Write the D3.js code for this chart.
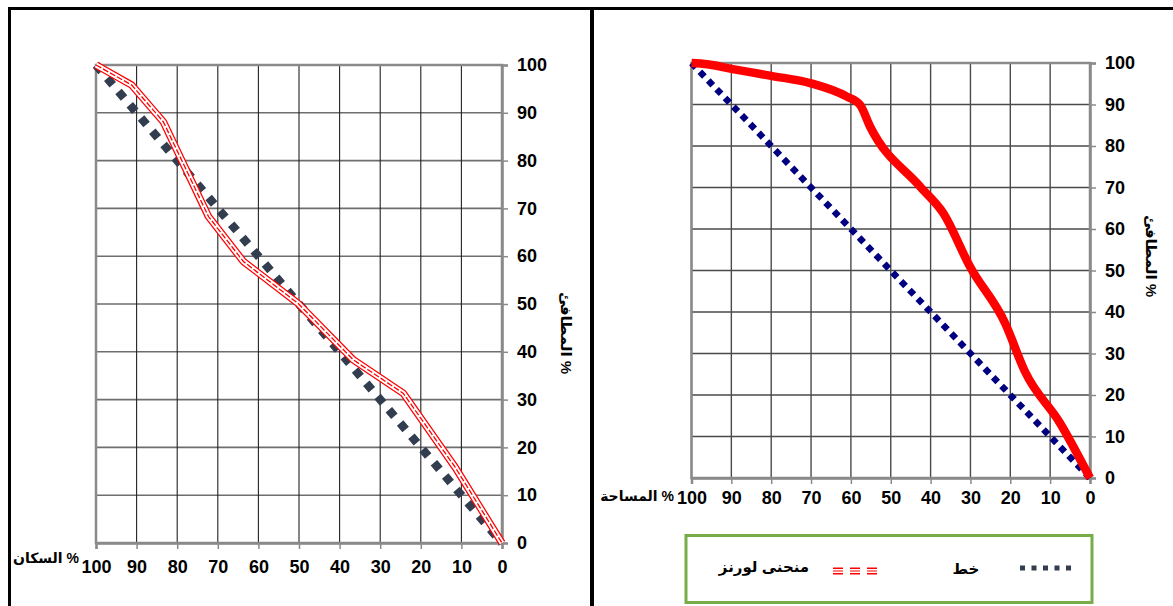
<!DOCTYPE html>
<html>
<head>
<meta charset="utf-8">
<script src="https://cdn.jsdelivr.net/npm/d3@7"></script>
<style>
  body { margin: 0; background: #fff; }
  svg { display: block; font-family: "Liberation Sans", Arial, "DejaVu Sans", sans-serif; }
</style>
</head>
<body>
<div id="chart"></div>
<script>
// tick values shared by both charts
const xTicks = [100, 90, 80, 70, 60, 50, 40, 30, 20, 10, 0];
const yTicks = [0, 10, 20, 30, 40, 50, 60, 70, 80, 90, 100];

// left chart: % population vs % fire stations
const popX = [100, 91.2, 83.4, 72.3, 63.7, 50.2, 36.6, 24.3, 11.5, 0];
const popY = [100, 95.8, 88.1, 68.3, 58.9, 50.1, 38.3, 31.3, 15.8, 0];

// right chart: % area vs % fire stations
const areaX = [100, 96, 90, 80, 70, 61, 57.7, 55.2, 42.6, 36.8, 30.1, 21.3, 16.3, 7.5, 0];
const areaY = [100, 99.7, 98.6, 96.9, 95.1, 91.9, 89.9, 84.7, 70.2, 63.8, 50.9, 37.3, 25.6, 13.2, 0];

// equality line
const eqX = [100, 0];
const eqY = [100, 0];

// strings written in visual order (percent sign on the right)
const labels = {
  yTitle: "المطافئ %",
  popTitle: "السكان %",
  areaTitle: "المساحة %",
  lorenz: "منحنى لورنز",
  line: "خط"
};

const W = 1173, H = 606;
const svg = d3.select("#chart").append("svg")
  .attr("width", W).attr("height", H);

// panel frames
svg.append("line").attr("x1", 8).attr("x2", W).attr("y1", 8.5).attr("y2", 8.5)
  .attr("stroke", "#000").attr("stroke-width", 3);
svg.append("line").attr("x1", 9.5).attr("x2", 9.5).attr("y1", 7).attr("y2", H)
  .attr("stroke", "#000").attr("stroke-width", 3);
svg.append("line").attr("x1", 592).attr("x2", 592).attr("y1", 7).attr("y2", H)
  .attr("stroke", "#000").attr("stroke-width", 4);

function drawChart(opt) {
  const x = d3.scaleLinear().domain([100, 0]).range(opt.xr);
  const y = d3.scaleLinear().domain([0, 100]).range(opt.yr);
  const g = svg.append("g");

  // grid
  g.selectAll(".hg").data(yTicks).enter().append("line")
    .attr("x1", x(100)).attr("x2", x(0))
    .attr("y1", d => y(d)).attr("y2", d => y(d))
    .attr("stroke", opt.hColor).attr("stroke-width", opt.hWidth);
  g.selectAll(".vg").data(xTicks).enter().append("line")
    .attr("x1", d => x(d)).attr("x2", d => x(d))
    .attr("y1", y(0)).attr("y2", y(100))
    .attr("stroke", opt.vColor).attr("stroke-width", opt.vWidth);

  g.append("rect")
    .attr("x", x(100)).attr("y", y(100))
    .attr("width", x(0) - x(100)).attr("height", y(0) - y(100))
    .attr("fill", "none").attr("stroke", "#8a8a8a").attr("stroke-width", 2.5);

  // axes
  const xa = g.append("g")
    .attr("transform", `translate(0,${y(0)})`)
    .call(d3.axisBottom(x).tickValues(xTicks).tickSize(6).tickPadding(opt.xPad));
  const ya = g.append("g")
    .attr("transform", `translate(${x(0)},0)`)
    .call(d3.axisRight(y).tickValues(yTicks).tickSize(6).tickPadding(9));
  [xa, ya].forEach(a => {
    a.select(".domain").attr("stroke", "#8a8a8a").attr("stroke-width", 2.5);
    a.selectAll(".tick line").attr("stroke", "#8a8a8a").attr("stroke-width", 1.5);
    a.selectAll("text").attr("font-size", 18).attr("font-weight", "bold")
      .attr("font-family", "'Liberation Sans', Arial, sans-serif").attr("fill", "#000");
  });

  // titles
  g.append("text")
    .attr("x", opt.xTitle[0]).attr("y", opt.xTitle[1])
    .attr("text-anchor", "end").attr("font-size", 14).attr("font-weight", "bold")
    .text(opt.xTitleText);
  g.append("text")
    .attr("transform", `translate(${opt.yTitle[0]},${opt.yTitle[1]}) rotate(90)`)
    .attr("text-anchor", "middle").attr("dy", "0.35em")
    .attr("font-size", 15).attr("font-weight", "bold")
    .text(labels.yTitle);

  return { g, x, y };
}

// ---------- left chart ----------
const L = drawChart({
  xr: [96, 502], yr: [543, 65], xPad: 11,
  hColor: "#6e6e6e", hWidth: 1.6, vColor: "#222", vWidth: 1.1,
  xTitle: [79, 563], xTitleText: labels.popTitle, yTitle: [566, 333]
});

const eqLine = d3.line();
L.g.append("path")
  .attr("d", eqLine(eqX.map((v, i) => [L.x(v), L.y(eqY[i])])))
  .attr("fill", "none").attr("stroke", "#323e4f")
  .attr("stroke-width", 8.5).attr("stroke-dasharray", "8.5 8.9");

const popPts = popX.map((v, i) => [L.x(v), L.y(popY[i])]);
const popLine = d3.line()(popPts);
L.g.append("path").attr("d", popLine).attr("fill", "none")
  .attr("stroke", "#ff0000").attr("stroke-width", 7.5).attr("stroke-linejoin", "round");
L.g.append("path").attr("d", popLine).attr("fill", "none")
  .attr("stroke", "#fff").attr("stroke-width", 5).attr("stroke-linejoin", "round");
L.g.append("path").attr("d", popLine).attr("fill", "none")
  .attr("stroke", "#ff0000").attr("stroke-width", 1.3).attr("stroke-dasharray", "6 2");

// ---------- right chart ----------
const R = drawChart({
  xr: [691.5, 1090], yr: [478, 63], xPad: 7,
  hColor: "#4a4a4a", hWidth: 1.4, vColor: "#4a4a4a", vWidth: 1.4,
  xTitle: [674, 501], xTitleText: labels.areaTitle, yTitle: [1151, 256]
});

R.g.append("path")
  .attr("d", eqLine(eqX.map((v, i) => [R.x(v), R.y(eqY[i])])))
  .attr("fill", "none").attr("stroke", "#000080")
  .attr("stroke-width", 6.5).attr("stroke-dasharray", "6.5 5.6");

const areaPts = areaX.map((v, i) => ({ x: v, y: areaY[i] }))
  .sort((a, b) => a.x - b.x);
R.g.append("path")
  .attr("d", d3.line().x(d => R.x(d.x)).y(d => R.y(d.y)).curve(d3.curveMonotoneX)(areaPts))
  .attr("fill", "none").attr("stroke", "#ff0000").attr("stroke-width", 8.5)
  .attr("stroke-linejoin", "round");

// ---------- legend ----------
const lg = svg.append("g");
lg.append("rect").attr("x", 686).attr("y", 535.5).attr("width", 406).attr("height", 67)
  .attr("fill", "none").attr("stroke", "#76ad49").attr("stroke-width", 3);

lg.append("line").attr("x1", 1020).attr("x2", 1072).attr("y1", 568).attr("y2", 568)
  .attr("stroke", "#323e4f").attr("stroke-width", 5).attr("stroke-dasharray", "5 6.5");
lg.append("text").attr("x", 966).attr("y", 574).attr("text-anchor", "middle")
  .attr("font-size", 15).attr("font-weight", "bold").text(labels.line);

[["#ff0000", 7], ["#fff", 4.2], ["#ff0000", 1.2]].forEach(([c, w]) => {
  lg.append("line").attr("x1", 833).attr("x2", 877).attr("y1", 571).attr("y2", 571)
    .attr("stroke", c).attr("stroke-width", w).attr("stroke-dasharray", "10 7");
});
lg.append("text").attr("x", 764).attr("y", 572).attr("text-anchor", "middle")
  .attr("font-size", 15).attr("font-weight", "bold").text(labels.lorenz);
</script>
</body>
</html>
